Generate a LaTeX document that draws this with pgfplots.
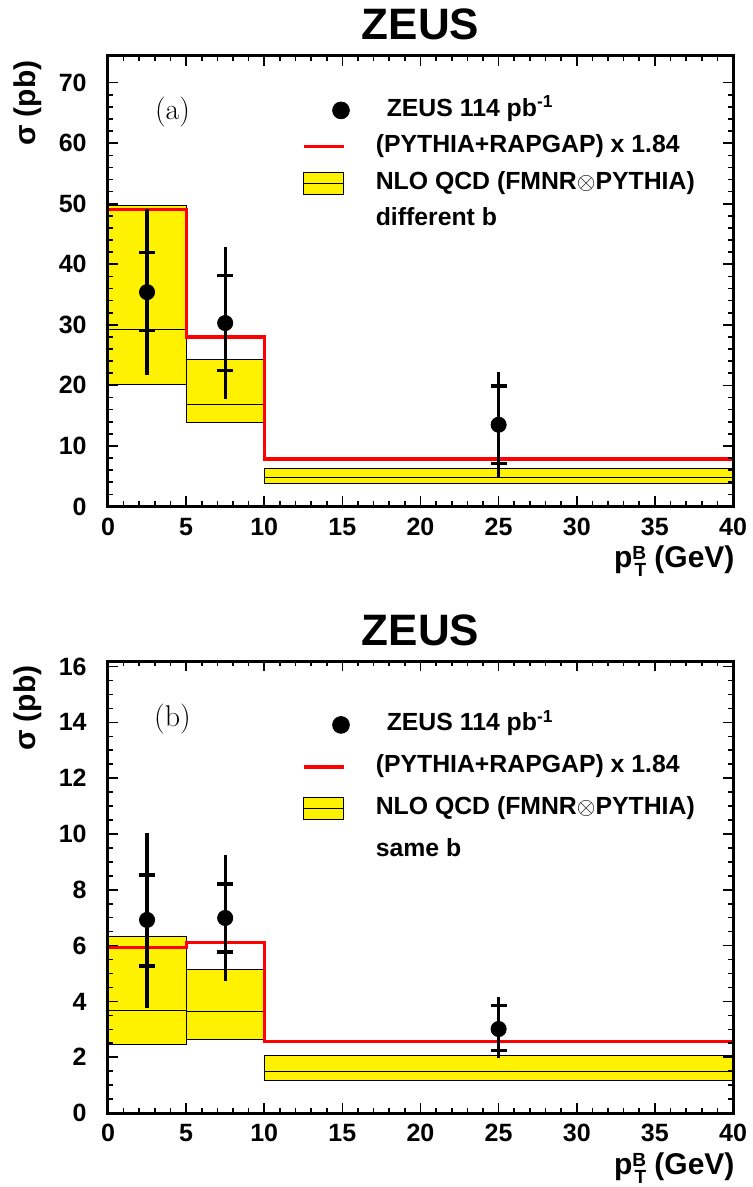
\documentclass[border=0pt]{standalone}
\usepackage{fontspec}
\setmainfont{Liberation Sans}
\newfontfamily\lmr{Latin Modern Roman}
\usepackage{pgfplots}
\pgfplotsset{compat=1.18}

\newcommand{\ptb}{p\raisebox{4pt}{\fontsize{9.5}{10}\selectfont B}\llap{\raisebox{-4.5pt}{\fontsize{9.5}{10}\selectfont T}}}

\pgfplotsset{
  zeus/.style={
    scale only axis, width=312.5pt,
    xmin=0, xmax=40,
    axis on top,
    axis line style={line width=1.5pt},
    tick align=inside,
    major tick length=5pt, minor tick length=2.5pt,
    every tick/.style={black, line width=0.8pt},
    xtick={0,5,...,40}, minor x tick num=4,
    /pgf/number format/assume math mode=true,
    tick label style={font=\fontsize{12.5}{15}\selectfont\bfseries},
    xticklabel style={anchor=north, inner sep=0pt, yshift=-5.5pt},
    yticklabel style={anchor=east, inner sep=0pt, xshift=-10.5pt},
    xlabel={\ptb\ (GeV)},
    ylabel={σ (pb)},
    xlabel style={font=\fontsize{15}{18}\selectfont\bfseries,
      at={(axis description cs:1.003,-0.1365)}, anchor=base east, inner sep=0pt},
    ylabel style={font=\fontsize{15}{18}\selectfont\bfseries,
      at={(axis description cs:-0.1152,0.991)}, anchor=base east, inner sep=0pt},
    title={ZEUS},
    title style={font=\fontsize{22}{26}\selectfont\bfseries, at={(0.5,1)}, anchor=base, inner sep=0pt, yshift=2pt},
    legend cell align=left,
    legend style={draw=none, fill=none, anchor=north west, inner sep=0pt,
      font=\fontsize{12.4}{14}\selectfont\bfseries,
      nodes={inner sep=0pt, text height=9pt, text depth=3pt}},
    /tikz/every odd column/.append style={column sep=13pt},
  },
  band/.style={fill=yellow, draw=black, line width=0.5pt, forget plot},
  mid/.style={black, line width=0.5pt, forget plot},
  mc/.style={red, line width=1.6pt, const plot, forget plot},
  tot/.style={black, only marks, mark=none, forget plot,
    error bars/.cd, y dir=both, y explicit,
    error bar style={line width=1.6pt}, error mark=none},
  stat/.style={black, only marks, mark=none, forget plot,
    error bars/.cd, y dir=both, y explicit,
    error bar style={line width=1.6pt}, error mark=-,
    error mark options={rotate=90, line width=1.6pt, mark size=4pt}},
  pts/.style={black, only marks, mark=*, mark size=3.8pt, forget plot},
}

\newcommand{\zeuslegend}[1]{%
  \addlegendimage{legend image code/.code={\path[draw=none] (0pt,0pt)--(20pt,0pt); \fill[black] (18.5pt,0pt) circle (4.2pt);}}
  \addlegendentry{\hspace{5.5pt}ZEUS 114 pb\textsuperscript{-1}}
  \addlegendimage{legend image code/.code={\draw[red, line width=1.6pt] (0pt,0pt)--(20pt,0pt);}}
  \addlegendentry{(PYTHIA+RAPGAP) x 1.84}
  \addlegendimage{legend image code/.code={\draw[fill=yellow, line width=0.5pt] (0pt,-5.5pt) rectangle (20pt,5.5pt); \draw[line width=0.5pt] (0pt,0pt)--(20pt,0pt);}}
  \addlegendentry{NLO QCD (FMNR$\otimes$PYTHIA)}
  \addlegendimage{legend image code/.code={\path[draw=none] (0pt,0pt)--(20pt,0pt);}}
  \addlegendentry{#1}
}

\begin{document}
\begin{tikzpicture}
% (a) different b
\begin{axis}[zeus, height=225.25pt,
  ymin=0, ymax=74.4,
  ytick={0,10,...,70}, minor y tick num=4,
  legend style={at={(rel axis cs:0.3104,0.9068)}, row sep=6.25pt},
]
  \addplot[band] coordinates {(0,20.2) (0,49.7) (5,49.7) (5,20.2) (0,20.2)};
  \addplot[band] coordinates {(5,13.9) (5,24.3) (10,24.3) (10,13.9) (5,13.9)};
  \addplot[band] coordinates {(10,3.8) (10,6.2) (40,6.2) (40,3.8) (10,3.8)};
  \addplot[mid] coordinates {(0,29.2) (5,29.2)};
  \addplot[mid] coordinates {(5,16.8) (10,16.8)};
  \addplot[mid] coordinates {(10,4.8) (40,4.8)};
  \addplot[mc] coordinates {(0,49.0) (5,28.0) (10,7.85) (40,7.85)};
  \addplot[tot] coordinates {
    (2.5,35.4) += (0,13.7) -= (0,13.7)
    (7.5,30.3) += (0,12.5) -= (0,12.6)
    (25,13.5)  += (0,8.7)  -= (0,8.8)
  };
  \addplot[stat] coordinates {
    (2.5,35.4) += (0,6.5) -= (0,6.3)
    (7.5,30.3) += (0,7.8) -= (0,7.9)
    (25,13.5)  += (0,6.4) -= (0,6.4)
  };
  \addplot[pts] coordinates {(2.5,35.4) (7.5,30.3) (25,13.5)};
  \node[anchor=base, inner sep=0pt, font=\lmr\fontsize{15}{18}\selectfont] at (axis cs:4.13,63.9) {(a)};
  \zeuslegend{different b}
\end{axis}
% (b) same b
\begin{axis}[zeus, height=226pt,
  at={(0,-303.25pt)}, anchor=south west,
  ymin=0, ymax=16.2,
  ytick={0,2,...,16}, minor y tick num=3,
  legend style={at={(rel axis cs:0.3104,0.886)}, row sep=9pt},
]
  \addplot[band] coordinates {(0,2.46) (0,6.34) (5,6.34) (5,2.46) (0,2.46)};
  \addplot[band] coordinates {(5,2.62) (5,5.13) (10,5.13) (10,2.62) (5,2.62)};
  \addplot[band] coordinates {(10,1.15) (10,2.05) (40,2.05) (40,1.15) (10,1.15)};
  \addplot[mid] coordinates {(0,3.67) (5,3.67)};
  \addplot[mid] coordinates {(5,3.65) (10,3.65)};
  \addplot[mid] coordinates {(10,1.48) (40,1.48)};
  \addplot[mc] coordinates {(0,5.92) (5,6.10) (10,2.56) (40,2.56)};
  \addplot[tot] coordinates {
    (2.5,6.92) += (0,3.12) -= (0,3.17)
    (7.5,6.99) += (0,2.26) -= (0,2.26)
    (25,3.01)  += (0,1.15) -= (0,1.05)
  };
  \addplot[stat] coordinates {
    (2.5,6.92) += (0,1.61) -= (0,1.65)
    (7.5,6.99) += (0,1.22) -= (0,1.22)
    (25,3.01)  += (0,0.83) -= (0,0.78)
  };
  \addplot[pts] coordinates {(2.5,6.92) (7.5,6.99) (25,3.01)};
  \node[anchor=base, inner sep=0pt, font=\lmr\fontsize{15}{18}\selectfont] at (axis cs:4.13,13.85) {(b)};
  \zeuslegend{same b}
\end{axis}
\pgfresetboundingbox
\path[use as bounding box] (-54pt,253.25pt) rectangle (322pt,-340.25pt);
\end{tikzpicture}
\end{document}
